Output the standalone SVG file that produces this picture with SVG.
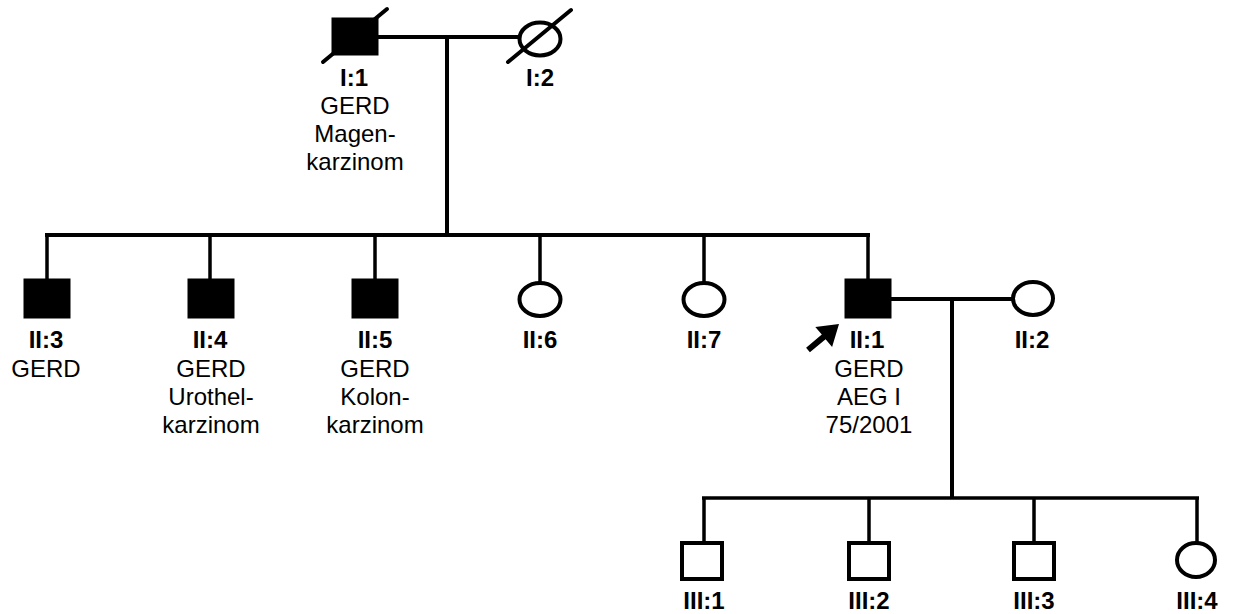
<svg xmlns="http://www.w3.org/2000/svg" width="1233" height="614" viewBox="0 0 1233 614">
  <style>
    .ln { stroke: #000; stroke-width: 4; fill: none; }
    .thin { stroke: #000; stroke-width: 3.5; fill: none; }
    .aff { fill: #000; stroke: #000; stroke-width: 1; }
    .unaff { fill: #fff; stroke: #000; stroke-width: 4; }
    .slash { stroke: #000; stroke-width: 4; stroke-linecap: round; }
    text { font-family: "Liberation Sans", Arial, sans-serif; font-size: 24px; text-anchor: middle; fill: #000; }
    .id { font-weight: bold; }
  </style>

  <!-- connectors: marriage lines, descent lines, sibship lines -->
  <g id="connectors">
    <line class="ln" x1="378" y1="37" x2="519" y2="37"/>
    <line class="ln" x1="447" y1="37" x2="447" y2="235"/>
    <line class="ln" x1="45" y1="235" x2="870" y2="235"/>
    <line class="thin" x1="47" y1="235" x2="47" y2="279"/>
    <line class="thin" x1="210" y1="235" x2="210" y2="279"/>
    <line class="thin" x1="375" y1="235" x2="375" y2="279"/>
    <line class="thin" x1="540" y1="235" x2="540" y2="283"/>
    <line class="thin" x1="704" y1="235" x2="704" y2="283"/>
    <line class="thin" x1="868" y1="235" x2="868" y2="279"/>
    <line class="ln" x1="891" y1="299" x2="1012" y2="299"/>
    <line class="ln" x1="952" y1="299" x2="952" y2="498"/>
    <line class="thin" x1="702" y1="498" x2="1199" y2="498"/>
    <line class="thin" x1="704" y1="498" x2="704" y2="541"/>
    <line class="thin" x1="869" y1="498" x2="869" y2="541"/>
    <line class="thin" x1="1034" y1="498" x2="1034" y2="541"/>
    <line class="thin" x1="1197" y1="498" x2="1197" y2="543"/>
  </g>

  <!-- generation I -->
  <g id="I-1">
    <rect class="aff" x="332" y="18" width="46" height="37"/>
    <line class="slash" x1="323" y1="62" x2="387" y2="9"/>
    <text class="id" x="354" y="86">I:1</text>
    <text x="355" y="114">GERD</text>
    <text x="355" y="142">Magen-</text>
    <text x="355" y="170">karzinom</text>
  </g>
  <g id="I-2">
    <ellipse class="unaff" cx="540" cy="39" rx="20.5" ry="16.5"/>
    <line class="slash" x1="508" y1="62" x2="571" y2="10"/>
    <text class="id" x="540" y="86">I:2</text>
  </g>

  <!-- generation II -->
  <g id="II-3">
    <rect class="aff" x="24" y="279" width="46" height="39"/>
    <text class="id" x="46" y="348">II:3</text>
    <text x="46" y="377">GERD</text>
  </g>
  <g id="II-4">
    <rect class="aff" x="188" y="279" width="46" height="39"/>
    <text class="id" x="210" y="348">II:4</text>
    <text x="211" y="377">GERD</text>
    <text x="211" y="405">Urothel-</text>
    <text x="211" y="433">karzinom</text>
  </g>
  <g id="II-5">
    <rect class="aff" x="352" y="279" width="46" height="39"/>
    <text class="id" x="375" y="348">II:5</text>
    <text x="375" y="377">GERD</text>
    <text x="375" y="405">Kolon-</text>
    <text x="375" y="433">karzinom</text>
  </g>
  <g id="II-6">
    <ellipse class="unaff" cx="540" cy="299.5" rx="20.5" ry="16.5"/>
    <text class="id" x="540" y="348">II:6</text>
  </g>
  <g id="II-7">
    <ellipse class="unaff" cx="704" cy="299.5" rx="20.5" ry="16.5"/>
    <text class="id" x="704" y="348">II:7</text>
  </g>
  <g id="II-1">
    <rect class="aff" x="845" y="279" width="46" height="39"/>
    <!-- proband arrow -->
    <polygon fill="#000" points="839,324 815.3,326.9 821.8,334.6 806.1,347.7 809.9,352.3 825.6,339.2 832.1,346.9"/>
    <text class="id" x="867" y="348">II:1</text>
    <text x="869" y="377">GERD</text>
    <text x="869" y="405">AEG I</text>
    <text x="869" y="433">75/2001</text>
  </g>
  <g id="II-2">
    <ellipse class="unaff" cx="1033" cy="298.5" rx="20" ry="16.5"/>
    <text class="id" x="1032" y="348">II:2</text>
  </g>

  <!-- generation III -->
  <g id="III-1">
    <rect class="unaff" x="682" y="543" width="40" height="36"/>
    <text class="id" x="704" y="609">III:1</text>
  </g>
  <g id="III-2">
    <rect class="unaff" x="849" y="543" width="40" height="36"/>
    <text class="id" x="869" y="609">III:2</text>
  </g>
  <g id="III-3">
    <rect class="unaff" x="1014" y="543" width="40" height="36"/>
    <text class="id" x="1034" y="609">III:3</text>
  </g>
  <g id="III-4">
    <ellipse class="unaff" cx="1196" cy="560" rx="19" ry="17"/>
    <text class="id" x="1197" y="609">III:4</text>
  </g>
</svg>
